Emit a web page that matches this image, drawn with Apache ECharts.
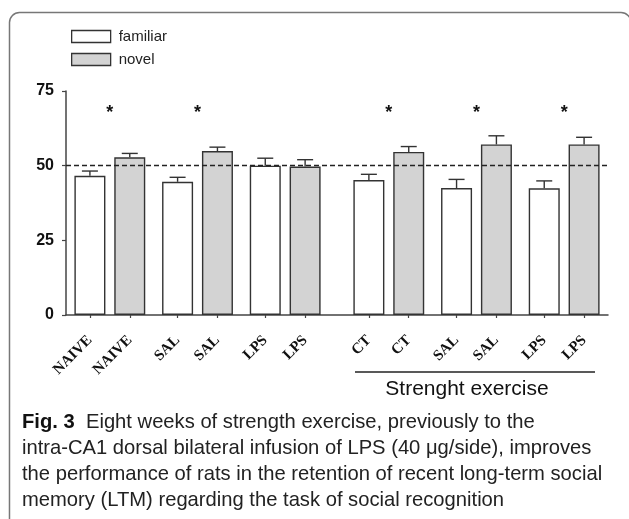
<!DOCTYPE html>
<html>
<head>
<meta charset="utf-8">
<script src="https://cdn.jsdelivr.net/npm/echarts@6/dist/echarts.min.js"></script>
<style>
html,body{margin:0;padding:0;background:#fff;}
#c{width:629px;height:519px;}
</style>
</head>
<body>
<div id="c"></div>
<script>
// ---- data ----
const categories = ['NAIVE', 'NAIVE', 'SAL', 'SAL', 'LPS', 'LPS', 'CT', 'CT', 'SAL', 'SAL', 'LPS', 'LPS'];
const groups = ['NAIVE', 'SAL', 'LPS', 'CT', 'SAL', 'LPS'];
const familiar = [46.6, 44.6, 50.0, 45.2, 42.5, 42.4];
const familiarErr = [1.6, 1.5, 2.5, 1.9, 2.9, 2.5];
const novel = [52.8, 54.9, 49.7, 54.6, 57.1, 57.1];
const novelErr = [1.3, 1.3, 2.3, 1.8, 2.9, 2.4];
const significant = [true, true, false, true, true, true];
const yTicks = [0, 25, 50, 75];
const chanceLevel = 50;
const seriesNames = ['familiar', 'novel'];
const blockLabel = 'Strenght exercise';

// ---- layout (style only): slot spacing on a fine category axis ----
const MARGIN = 6, IN_PAIR = 10, PAIR_STEP = 22, BLOCK_EXTRA = 4, PER_BLOCK = 3;
const famSlot = groups.map((g, i) => MARGIN + i * PAIR_STEP + (i >= PER_BLOCK ? BLOCK_EXTRA : 0));
const novSlot = famSlot.map(s => s + IN_PAIR);
const nSlots = novSlot[novSlot.length - 1] + MARGIN + 1;
const axisCats = new Array(nSlots).fill('');
const isBar = new Array(nSlots).fill(false);
famSlot.forEach((s, i) => { axisCats[s] = categories[2 * i]; isBar[s] = true; });
novSlot.forEach((s, i) => { axisCats[s] = categories[2 * i + 1]; isBar[s] = true; });
const famData = new Array(nSlots).fill('-');
const novData = new Array(nSlots).fill('-');
famSlot.forEach((s, i) => famData[s] = familiar[i]);
novSlot.forEach((s, i) => novData[s] = novel[i]);
const errData = [];
famSlot.forEach((s, i) => errData.push([s, familiar[i], familiarErr[i]]));
novSlot.forEach((s, i) => errData.push([s, novel[i], novelErr[i]]));
const STAR_LEVEL = 68.9;
const starData = [];
famSlot.forEach((s, i) => { if (significant[i]) starData.push([s + IN_PAIR / 2, STAR_LEVEL]); });

const EDGE = '#333';
const chart = echarts.init(document.getElementById('c'));
chart.setOption({
  animation: false,
  backgroundColor: '#fff',
  grid: { left: 66, right: 21, top: 91, bottom: 204 },
  legend: {
    orient: 'vertical', left: 66, top: 24, itemWidth: 39, itemHeight: 12, itemGap: 8,
    icon: 'rect',
    itemStyle: { borderColor: EDGE, borderWidth: 1.3 },
    textStyle: { fontFamily: 'Liberation Sans, Arial, sans-serif', fontSize: 15, color: '#222', padding: [0, 0, 0, 3] },
    data: seriesNames
  },
  xAxis: {
    type: 'category', data: axisCats, boundaryGap: false,
    axisLine: { lineStyle: { color: '#444', width: 1.5 } },
    axisTick: { interval: (i) => isBar[i], length: 3, lineStyle: { color: '#444', width: 1.2 } },
    axisLabel: {
      interval: (i) => isBar[i], rotate: 45, margin: 23,
      fontFamily: 'Liberation Serif, Times New Roman, serif', fontWeight: 'bold', fontSize: 15, color: '#111'
    },
    splitLine: { show: false }
  },
  yAxis: {
    type: 'value', min: yTicks[0], max: yTicks[yTicks.length - 1], interval: yTicks[1] - yTicks[0],
    axisLine: { show: true, lineStyle: { color: '#444', width: 1.5 } },
    axisTick: { show: true, length: 4, lineStyle: { color: '#444', width: 1.2 } },
    axisLabel: { margin: 12, fontFamily: 'Liberation Sans, Arial, sans-serif', fontWeight: 'bold', fontSize: 16, color: '#111' },
    splitLine: { show: false }
  },
  series: [
    {
      name: seriesNames[0], type: 'bar', data: famData, barWidth: 31, barGap: '-100%',
      itemStyle: { color: '#fff', borderColor: EDGE, borderWidth: 1.4 },
      markLine: {
        silent: true, symbol: 'none', label: { show: false },
        lineStyle: { color: '#222', width: 1.4, type: [5, 3] },
        data: [{ yAxis: chanceLevel }]
      },
      z: 2
    },
    {
      name: seriesNames[1], type: 'bar', data: novData, barWidth: 31, barGap: '-100%',
      itemStyle: { color: '#d3d3d3', borderColor: EDGE, borderWidth: 1.4 },
      z: 2
    },
    {
      type: 'custom', data: errData, z: 3, silent: true,
      renderItem: function (params, api) {
        const x = api.value(0), v = api.value(1), e = api.value(2);
        const p0 = api.coord([x, v]);
        const p1 = api.coord([x, v + e]);
        const hw = 8;
        const st = { stroke: EDGE, lineWidth: 1.4 };
        return {
          type: 'group', children: [
            { type: 'line', shape: { x1: p0[0], y1: p0[1], x2: p1[0], y2: p1[1] }, style: st },
            { type: 'line', shape: { x1: p1[0] - hw, y1: p1[1], x2: p1[0] + hw, y2: p1[1] }, style: st }
          ]
        };
      }
    },
    {
      type: 'custom', data: starData, z: 3, silent: true,
      renderItem: function (params, api) {
        const p = api.coord([api.value(0), api.value(1)]);
        return {
          type: 'text', x: p[0], y: p[1] + 4,
          style: { text: '*', fill: '#111', font: 'bold 18px Liberation Sans, Arial, sans-serif', align: 'center', verticalAlign: 'middle' }
        };
      }
    }
  ],
  graphic: [
    {
      type: 'rect', silent: true,
      shape: { x: 9.5, y: 12.5, width: 621.5, height: 620, r: 10 },
      style: { fill: 'none', stroke: '#777', lineWidth: 1.5 }
    },
    {
      type: 'line', silent: true,
      shape: { x1: 355, y1: 372, x2: 595, y2: 372 },
      style: { stroke: '#222', lineWidth: 1.5 }
    },
    {
      type: 'text', silent: true, x: 467, y: 389,
      style: { text: blockLabel, font: '21px Liberation Sans, Arial, sans-serif', fill: '#111', align: 'center', verticalAlign: 'middle' }
    },
    {
      type: 'text', silent: true, x: 22, y: 409,
      style: {
        text: '{b|Fig. 3}  Eight weeks of strength exercise, previously to the\nintra-CA1 dorsal bilateral infusion of LPS (40 μg/side), improves\nthe performance of rats in the retention of recent long-term social\nmemory (LTM) regarding the task of social recognition',
        font: '20.2px Liberation Sans, Arial, sans-serif', fill: '#222', lineHeight: 26, verticalAlign: 'top',
        rich: { b: { font: 'bold 20.2px Liberation Sans, Arial, sans-serif', fill: '#111', lineHeight: 26 } }
      }
    }
  ]
});
</script>
</body>
</html>
